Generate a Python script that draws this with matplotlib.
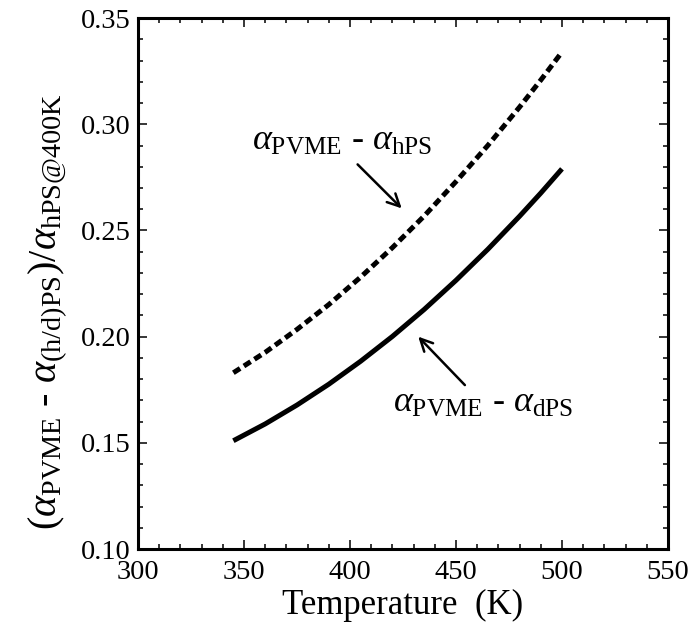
import matplotlib
matplotlib.use("Agg")
import matplotlib.pyplot as plt

plt.rcParams['font.family'] = ['Liberation Serif', 'DejaVu Serif']
plt.rcParams['mathtext.fontset'] = 'custom'
plt.rcParams['mathtext.rm'] = 'Liberation Serif'
plt.rcParams['mathtext.it'] = 'Liberation Serif:italic'

# values
temp = [345, 360, 375, 390, 405, 420, 435, 450, 465, 480, 490, 500]
diff_hps = [0.1830, 0.1926, 0.2034, 0.2151, 0.2280, 0.2419, 0.2568, 0.2730,
            0.2900, 0.3081, 0.3208, 0.3340]
diff_dps = [0.1510, 0.1589, 0.1678, 0.1776, 0.1884, 0.2001, 0.2128, 0.2265,
            0.2411, 0.2567, 0.2676, 0.2790]

fig = plt.figure(figsize=(6.94, 6.34), dpi=100)
ax = fig.add_axes([0.1988, 0.134, 0.7637, 0.8375])

ax.plot(temp, diff_hps, color='black', lw=3.6, linestyle=(0, (1.6, 0.9)),
        dash_capstyle='butt')
ax.plot(temp, diff_dps, color='black', lw=3.6, solid_capstyle='butt')

ax.set_xlim(300, 550)
ax.set_ylim(0.10, 0.35)
ax.set_xticks([300, 350, 400, 450, 500, 550])
ax.set_yticks([0.10, 0.15, 0.20, 0.25, 0.30, 0.35])
ax.set_yticklabels(['0.10', '0.15', '0.20', '0.25', '0.30', '0.35'])
ax.set_xticks(range(300, 551, 10), minor=True)
ax.set_yticks([0.10 + 0.01 * i for i in range(26)], minor=True)
ax.tick_params(which='both', direction='in', top=True, right=True, width=1.1,
               labelsize=20.5)
ax.tick_params(which='major', length=6.5)
ax.tick_params(axis='x', which='major', pad=8)
ax.tick_params(axis='y', which='major', pad=5)
ax.tick_params(which='minor', length=3.7)
for s in ax.spines.values():
    s.set_linewidth(2.2)

ax.set_xlabel('Temperature  (K)', fontsize=25)
ax.xaxis.set_label_coords(0.5, -0.075)
ax.set_ylabel(r'$(\alpha_{\mathrm{PVME}}$ - $\alpha_{\mathrm{(h/d)PS}})/\alpha_{\mathrm{hPS@400K}}$',
              fontsize=29)
ax.yaxis.set_label_coords(-0.128, 0.448)

arrow = dict(arrowstyle='->', color='black', lw=1.8, mutation_scale=22,
             shrinkA=0, shrinkB=0)
ax.text(353.6, 0.288, r'$\alpha_{\mathrm{PVME}}$ - $\alpha_{\mathrm{hPS}}$',
        fontsize=26, ha='left', va='baseline')
ax.annotate('', xy=(424.4, 0.2604), xytext=(403.6, 0.2811), arrowprops=arrow)
ax.text(420.4, 0.1646, r'$\alpha_{\mathrm{PVME}}$ - $\alpha_{\mathrm{dPS}}$',
        fontsize=26, ha='left', va='baseline')
ax.annotate('', xy=(432.2, 0.200), xytext=(454.2, 0.1772), arrowprops=arrow)

fig.savefig('out.png', dpi=100)
